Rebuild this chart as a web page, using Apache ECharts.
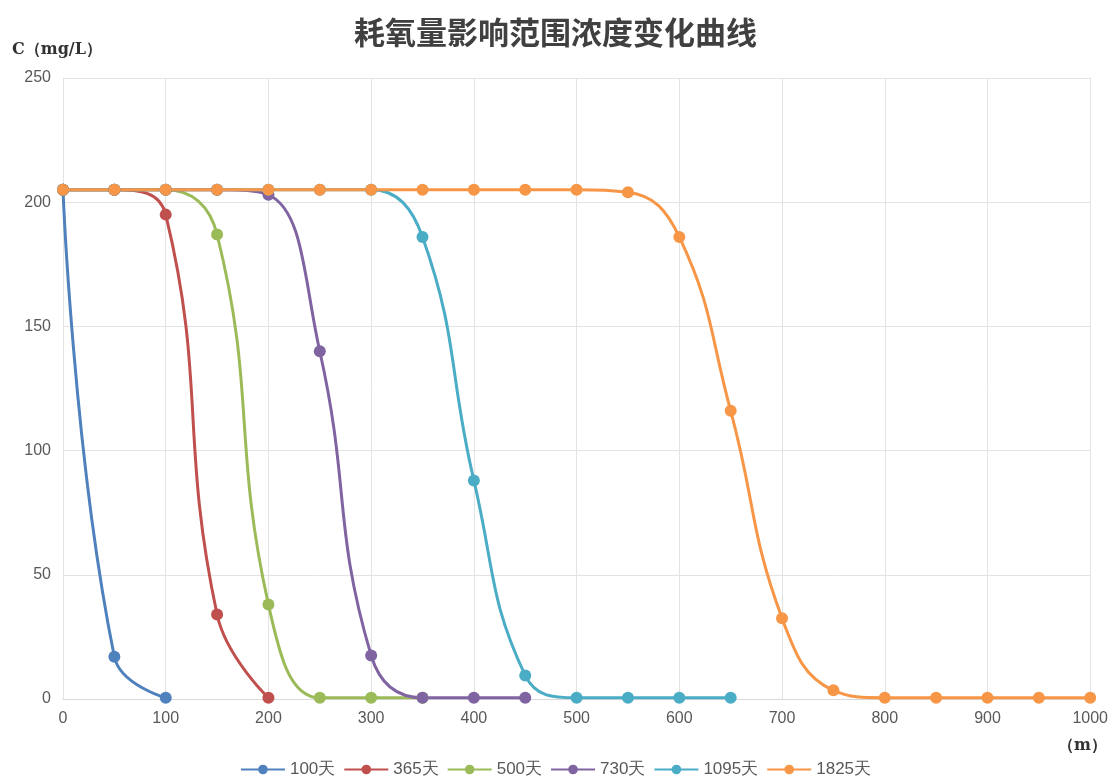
<!DOCTYPE html>
<html>
<head>
<meta charset="utf-8">
<script src="https://cdn.jsdelivr.net/npm/echarts@6/dist/echarts.min.js"></script>
<style>
  html, body { margin: 0; padding: 0; background: #fff; }
  #main { width: 1111px; height: 783px; }
</style>
</head>
<body>
<div id="main"></div>
<script>
// 距离 (m)
const dist = [0, 50, 100, 150, 200, 250, 300, 350, 400, 450, 500, 550, 600, 650, 700, 750, 800, 850, 900, 950, 1000];

const seriesNames = ['100天', '365天', '500天', '730天', '1095天', '1825天'];

// 浓度 C (mg/L)
const c100 = [205, 17, 0.5];
const c365 = [205, 205, 195, 34, 0.5];
const c500 = [205, 205, 205, 187, 38, 0.5, 0.5, 0.5];
const c730 = [205, 205, 205, 205, 203, 140, 17.5, 0.5, 0.5, 0.5];
const c1095 = [205, 205, 205, 205, 205, 205, 205, 186, 88, 9.5, 0.5, 0.5, 0.5, 0.5];
const c1825 = [205, 205, 205, 205, 205, 205, 205, 205, 205, 205, 205, 204, 186, 116, 32.5, 3.5, 0.5, 0.5, 0.5, 0.5, 0.5];

const allValues = [c100, c365, c500, c730, c1095, c1825];
const myColor = ['#4F81BD', '#C0504D', '#9BBB59', '#8064A2', '#4BACC6', '#F79646'];

const mChart = echarts.init(document.getElementById('main'));

const series = allValues.map((vals, i) => ({
  name: seriesNames[i],
  type: 'line',
  smooth: 0.45,
  symbol: 'circle',
  symbolSize: 12,
  data: vals.map((v, k) => [dist[k], v]),
  lineStyle: { width: 3, color: myColor[i] },
  itemStyle: { color: myColor[i] }
}));

const option = {
  animation: false,
  color: myColor,
  title: {
    text: '耗氧量影响范围浓度变化曲线',
    left: 'center',
    top: 12,
    textStyle: {
      fontFamily: 'Noto Sans CJK SC',
      fontSize: 31,
      fontWeight: 'bold',
      color: '#404040'
    }
  },
  legend: {
    bottom: 0,
    left: 'center',
    itemWidth: 44,
    itemHeight: 12,
    itemGap: 8,
    textStyle: { fontSize: 17, color: '#595959' },
    data: seriesNames
  },
  grid: {
    left: 63,
    right: 19,
    top: 78,
    bottom: 84
  },
  xAxis: {
    type: 'value',
    min: 0,
    max: 1000,
    interval: 100,
    axisLine: { show: true, lineStyle: { color: '#d9d9d9' } },
    axisTick: { show: false },
    axisLabel: { color: '#595959', fontSize: 16, margin: 12, formatter: v => String(v) },
    splitLine: { show: true, lineStyle: { color: '#e3e3e3' } }
  },
  yAxis: {
    type: 'value',
    min: 0,
    max: 250,
    interval: 50,
    axisLine: { show: false },
    axisTick: { show: false },
    axisLabel: { color: '#595959', fontSize: 16, margin: 12 },
    splitLine: { show: true, lineStyle: { color: '#e3e3e3' } }
  },
  graphic: [
    {
      type: 'text',
      left: 12,
      top: 42,
      style: {
        text: 'C（mg/L）',
        font: 'bold 16px "DejaVu Serif", serif',
        fill: '#333'
      }
    },
    {
      type: 'text',
      right: 4,
      top: 738,
      style: {
        text: '（m）',
        font: 'bold 16px "DejaVu Serif", serif',
        fill: '#333'
      }
    }
  ],
  series: series
};

mChart.setOption(option);
</script>
</body>
</html>
